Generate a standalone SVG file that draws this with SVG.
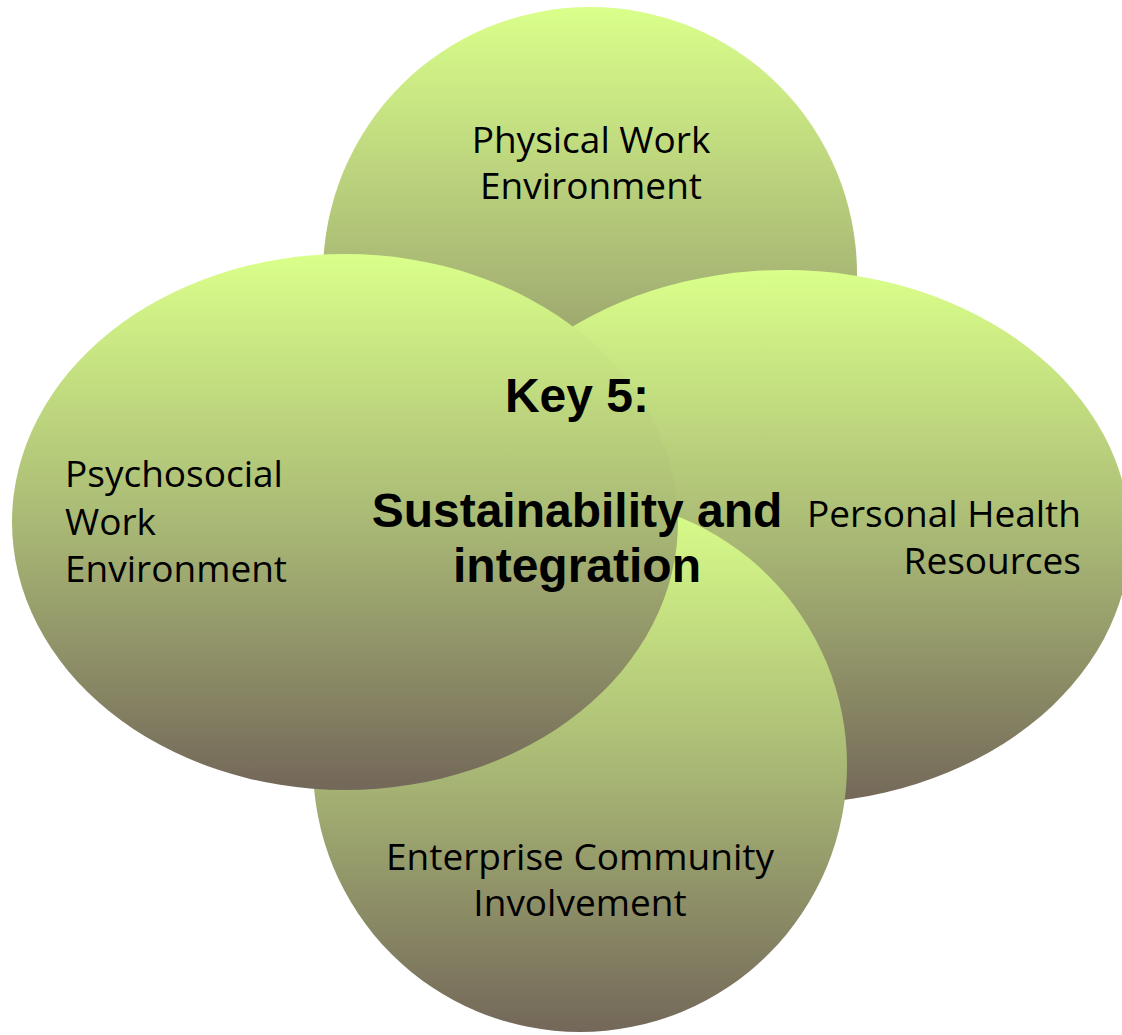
<svg xmlns="http://www.w3.org/2000/svg" width="1122" height="1035" viewBox="0 0 1122 1035">
<defs>
<linearGradient id="g" x1="0" y1="0" x2="0" y2="1">
<stop offset="0" stop-color="#daff8a"/>
<stop offset="0.5" stop-color="#a9b975"/>
<stop offset="1" stop-color="#736759"/>
</linearGradient>
</defs>
<style>
.shape{fill:url(#g);}
.lbl{font-family:"Open Sans","Noto Sans",sans-serif;font-size:37px;fill:#000;}
.key{font-family:"Liberation Sans",Arial,sans-serif;font-size:48px;font-weight:bold;fill:#000;text-anchor:middle;}
</style>
<rect width="1122" height="1035" fill="#fff"/>
<g id="physical">
<circle class="shape" cx="590" cy="274" r="267"/>
<text class="lbl" x="591" y="153" text-anchor="middle">Physical Work</text>
<text class="lbl" x="591" y="199" text-anchor="middle">Environment</text>
</g>
<g id="personal">
<ellipse class="shape" cx="785" cy="537" rx="345" ry="267"/>
<text class="lbl" x="1081" y="527" text-anchor="end">Personal Health</text>
<text class="lbl" x="1081" y="574" text-anchor="end">Resources</text>
</g>
<g id="enterprise">
<circle class="shape" cx="580" cy="765" r="267"/>
<text class="lbl" x="580" y="870" text-anchor="middle">Enterprise Community</text>
<text class="lbl" x="580" y="916" text-anchor="middle">Involvement</text>
</g>
<g id="psychosocial">
<ellipse class="shape" cx="345" cy="522" rx="333" ry="268"/>
<text class="lbl" x="65" y="487">Psychosocial</text>
<text class="lbl" x="65" y="535">Work</text>
<text class="lbl" x="65" y="582">Environment</text>
</g>
<g id="key">
<text class="key" x="577" y="412">Key 5:</text>
<text class="key" x="577" y="527">Sustainability and</text>
<text class="key" x="577" y="582">integration</text>
</g>
<g id="connectors"/>
</svg>
